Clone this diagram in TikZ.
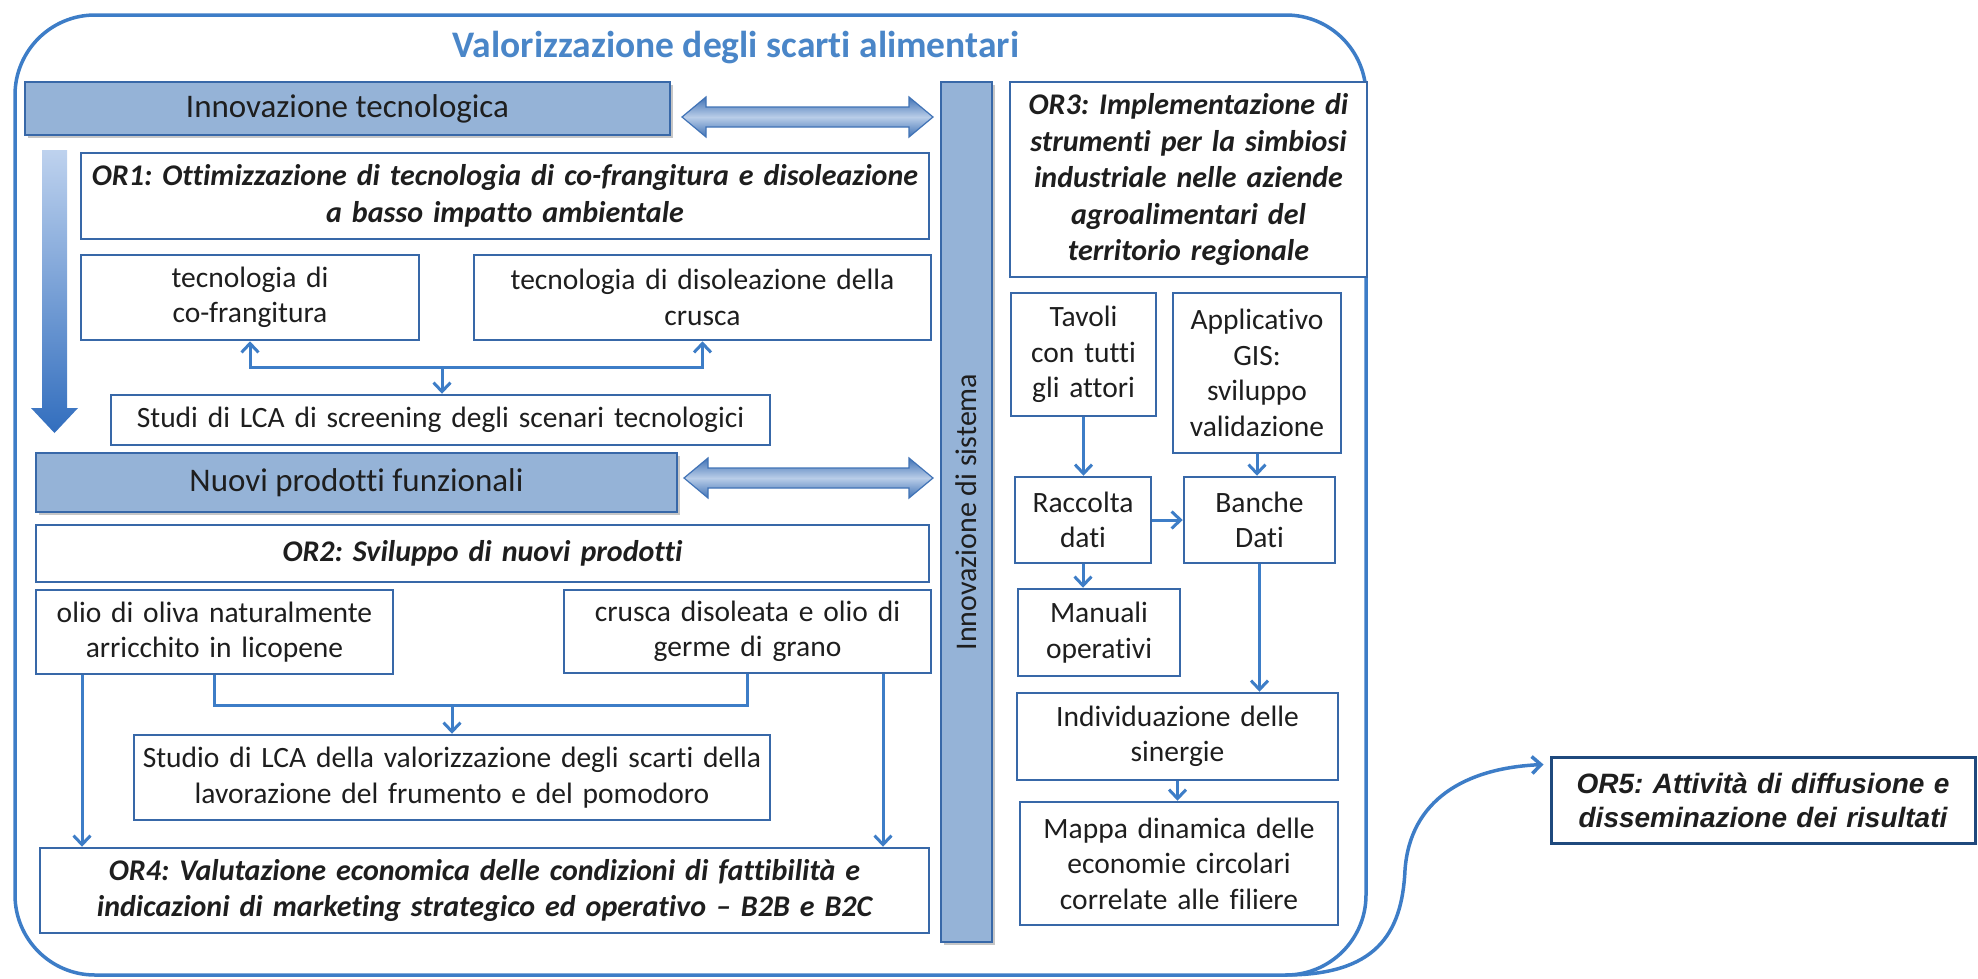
\documentclass[tikz,border=0pt]{standalone}
\usepackage{fontspec}
\setmainfont[Ligatures=NoCommon]{Carlito}
\newfontfamily\arialfont{Liberation Sans}
\usetikzlibrary{arrows.meta,calc,shadows}
\frenchspacing

\definecolor{linkblue}{RGB}{61,125,199}
\definecolor{edgeblue}{RGB}{56,104,168}
\definecolor{hdrfill}{RGB}{149,179,215}
\definecolor{titleblue}{RGB}{74,134,200}
\definecolor{navy}{RGB}{31,73,125}
\definecolor{txt}{RGB}{30,30,30}
\definecolor{gradtop}{RGB}{190,210,238}
\definecolor{gradbot}{RGB}{50,110,190}
\definecolor{dbledge}{RGB}{65,115,182}
\definecolor{dblmid}{RGB}{185,205,232}

\begin{document}
\begin{tikzpicture}[x=1pt,y=-1pt,>={Straight Barb[length=9pt,width=17pt]},
  wbox/.style={draw=edgeblue,line width=2.5pt,fill=white,align=center,inner sep=0pt,text=txt,
    font=\fontsize{29.5pt}{35.5pt}\selectfont},
  orbox/.style={wbox,font=\fontsize{30pt}{36.5pt}\selectfont\bfseries\itshape},
  hdr/.style={draw=edgeblue,line width=2.5pt,fill=hdrfill,text=txt,inner sep=0pt,
    drop shadow={shadow xshift=3pt,shadow yshift=-3pt,opacity=.45},
    font=\fontsize{33pt}{40pt}\selectfont},
  frame/.style={draw=linkblue,line width=3.5pt,rounded corners=80pt},
  link/.style={draw=linkblue,line width=3pt},
  dblarr/.style={draw=dbledge,line width=1.2pt,top color=dbledge,bottom color=dbledge,middle color=dblmid}]
\useasboundingbox (0,0) rectangle (1978,978);

\node[frame,minimum width=1351pt,minimum height=960pt] (frame) at (690.5,495) {};
\node[font=\fontsize{37.5pt}{40pt}\selectfont\bfseries,text=titleblue] (title) at (736,48) {Valorizzazione degli scarti alimentari};

% left column
\node[hdr,minimum width=645pt,minimum height=53pt] (innov) at (347.5,108.5) {Innovazione tecnologica};
\path[top color=gradtop,bottom color=gradbot] (42,150) -- (67,150) -- (67,408) -- (78,408) -- (54.5,433) -- (31,408) -- (42,408) -- cycle;
\node[orbox,minimum width=848pt,minimum height=86pt,text width=830pt] (or1) at (505,196) {OR1: Ottimizzazione di tecnologia di co-frangitura e disoleazione\\a basso impatto ambientale};
\node[wbox,minimum width=338pt,minimum height=85pt,text width=320pt] (cofr) at (250,297.5) {tecnologia di\\co-frangitura};
\node[wbox,minimum width=457pt,minimum height=85pt,text width=440pt] (disol) at (702.5,297.5) {tecnologia di disoleazione della\\crusca};
\node[wbox,minimum width=659pt,minimum height=50pt,text width=640pt] (lca1) at (440.5,420) {Studi di LCA di screening degli scenari tecnologici};
\node[hdr,minimum width=641pt,minimum height=59pt] (nuovi) at (356.5,482.5) {Nuovi prodotti funzionali};
\node[orbox,minimum width=893pt,minimum height=57pt,text width=870pt] (or2) at (482.5,553.5) {OR2: Sviluppo di nuovi prodotti};
\node[wbox,minimum width=357pt,minimum height=84pt,text width=340pt] (olio) at (214.5,632) {olio di oliva naturalmente\\arricchito in licopene};
\node[wbox,minimum width=367pt,minimum height=83pt,text width=350pt] (crusca) at (747.5,631.5) {crusca disoleata e olio di\\germe di grano};
\node[wbox,minimum width=636pt,minimum height=85pt,text width=620pt] (lca2) at (452,777.5) {Studio di LCA della valorizzazione degli scarti della\\lavorazione del frumento e del pomodoro};
\node[orbox,minimum width=889pt,minimum height=85pt,text width=870pt] (or4) at (484.5,890.5) {OR4: Valutazione economica delle condizioni di fattibilità e\\indicazioni di marketing strategico ed operativo – B2B e B2C};

% bar and block arrows
\node[hdr,minimum width=51pt,minimum height=860pt] (sist) at (966.5,512) {};
\node[rotate=90,text=txt,font=\fontsize{30pt}{36pt}\selectfont] (sistlabel) at (sist) {Innovazione di sistema};
\path[dblarr] (682,117) -- (706,97) -- (706,107) -- (909,107) -- (909,97) -- (933,117) -- (909,137) -- (909,127) -- (706,127) -- (706,137) -- cycle;
\path[dblarr] (684,478) -- (708,458) -- (708,468) -- (909,468) -- (909,458) -- (933,478) -- (909,498) -- (909,488) -- (708,488) -- (708,498) -- cycle;

% right column
\node[orbox,minimum width=357pt,minimum height=195pt,text width=340pt] (or3) at (1188.5,179.5) {OR3: Implementazione di\\strumenti per la simbiosi\\industriale nelle aziende\\agroalimentari del\\territorio regionale};
\node[wbox,minimum width=145pt,minimum height=123pt,text width=135pt] (tavoli) at (1083.5,354.5) {Tavoli\\con tutti\\gli attori};
\node[wbox,minimum width=168pt,minimum height=160pt,text width=160pt] (gis) at (1257,373) {Applicativo\\GIS:\\sviluppo\\validazione};
\node[wbox,minimum width=136pt,minimum height=86pt,text width=130pt] (racc) at (1083,520) {Raccolta\\dati};
\node[wbox,minimum width=151pt,minimum height=86pt,text width=140pt] (banche) at (1259.5,520) {Banche\\Dati};
\node[wbox,minimum width=162pt,minimum height=87pt,text width=150pt] (manuali) at (1099,632.5) {Manuali\\operativi};
\node[wbox,minimum width=321pt,minimum height=87pt,text width=310pt] (indiv) at (1177.5,736.5) {Individuazione delle\\sinergie};
\node[wbox,minimum width=318pt,minimum height=123pt,text width=310pt] (mappa) at (1179,863.5) {Mappa dinamica delle\\economie circolari\\correlate alle filiere};

\node[draw=navy,line width=3pt,fill=white,minimum width=424pt,minimum height=86pt,text width=410pt,align=center,inner sep=0pt,
  font=\arialfont\fontsize{28pt}{34pt}\selectfont\bfseries\itshape,text=txt] (or5) at (1763,800) {OR5: Attività di diffusione e\\disseminazione dei risultati};

% connectors
\coordinate (fork1) at (442,367);
\coordinate (fork2) at (452,705);
\coordinate (lx) at (82,0);
\coordinate (rx) at (883,0);
\coordinate (cstart) at (1285,975);
\draw[link,<->] (cofr.south) |- (fork1) -| (disol.south);
\draw[link,->] (fork1) -- (fork1 |- lca1.north);
\draw[link] (olio.south) |- (fork2) -| (crusca.south);
\draw[link,->] (fork2) -- (lca2.north);
\draw[link,->] (olio.south -| lx) -- (or4.north -| lx);
\draw[link,->] (crusca.south -| rx) -- (or4.north -| rx);
\draw[link,->] (tavoli.south) -- (tavoli.south |- racc.north);
\draw[link,->] (gis.south) -- (gis.south |- banche.north);
\draw[link,->] (racc) -- (banche);
\draw[link,->] (racc.south) -- (racc.south |- manuali.north);
\draw[link,->] (banche.south) -- (banche.south |- indiv.north);
\draw[link,->] (indiv.south) -- (indiv.south |- mappa.north);
\draw[link,line width=3.5pt,->] (cstart) .. controls (1375,975) and (1402,935) .. (1405,870) .. controls (1410,800) and (1465,768) .. ($(or5.north west)+(-6,9)$);
\end{tikzpicture}
\end{document}
